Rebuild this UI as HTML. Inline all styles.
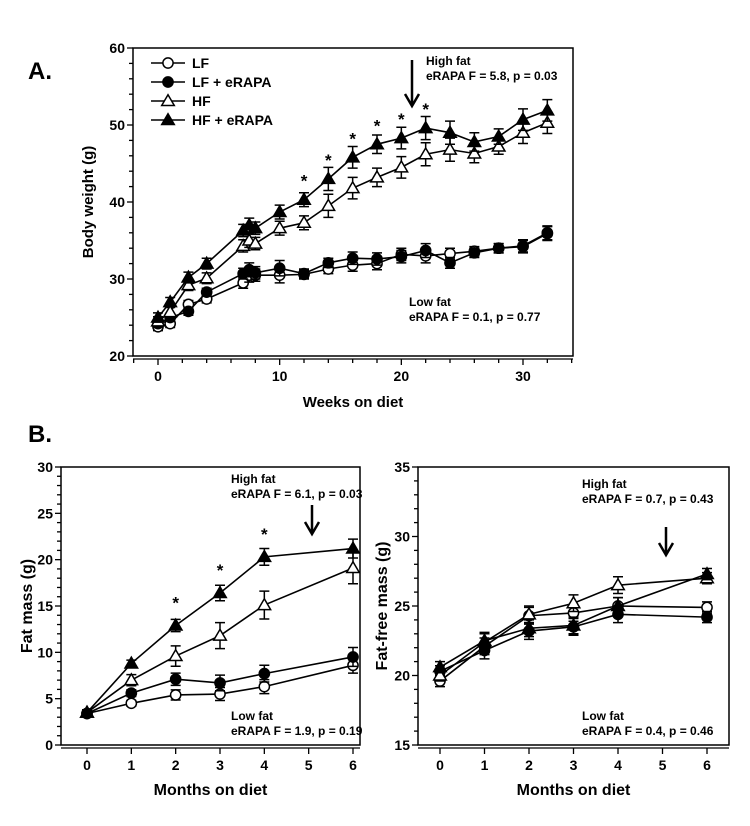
<!DOCTYPE html>
<html><head><meta charset="utf-8"><style>
body{margin:0;background:#fff}
svg{font-family:"Liberation Sans",Arial,sans-serif;font-weight:bold}
</style></head><body>
<svg id="svg" width="750" height="821" viewBox="0 0 750 821" xmlns="http://www.w3.org/2000/svg">
<text x="28" y="79" font-size="24">A.</text>
<text x="28" y="442" font-size="24">B.</text>
<g id="A"></g>
<g id="B1"></g>
<g id="B2"></g>
</svg>
<script>
const weeks=[0,1,2.5,4,7,7.5,8,10,12,14,16,18,20,22,24,26,28,30,32];
const bwLF=[23.8,24.2,26.7,27.4,29.5,30.5,30.5,30.5,30.6,31.3,31.8,32,33.2,33,33.3,33.6,34,34.3,36];
const bwLFR=[24.2,25,25.8,28.3,30.7,31.2,30.8,31.4,30.7,32.1,32.7,32.6,32.9,33.7,32.1,33.4,34,34.2,35.9];
const bwHF=[24.5,25.7,29.2,30.1,34.3,35,34.6,36.6,37.3,39.5,41.8,43.2,44.5,46.2,46.8,46.3,47.2,49,50.3];
const bwHFR=[25,27,30.2,32,36.3,37,36.6,38.7,40.3,43,45.8,47.5,48.3,49.6,49,47.8,48.5,50.7,51.9];
const bwErrHF=[0.6,0.6,0.7,0.7,0.8,0.9,0.8,0.9,0.9,1.5,1.4,1.2,1.4,1.5,1.5,1.2,1.0,1.4,1.4];
const bwErrLF=[0.5,0.5,0.5,0.5,0.7,0.9,0.8,1.0,0.6,0.6,0.8,0.8,0.8,0.9,0.7,0.6,0.6,0.8,0.9];
const months=[0,1,2,3,4,6];
const fmLF=[3.4,4.5,5.4,5.5,6.3,8.6];
const fmLFR=[3.4,5.6,7.1,6.7,7.7,9.5];
const fmHF=[3.5,7.0,9.6,11.8,15.1,19.1];
const fmHFR=[3.5,8.8,12.9,16.4,20.3,21.2];
const fmErr=[0.3,0.6,1.1,1.4,1.5,1.7];
const ffLF=[19.6,22.1,24.3,24.5,25,24.9];
const ffLFR=[20.3,21.8,23.2,23.5,24.4,24.2];
const ffHF=[20.0,22.4,24.4,25.2,26.5,27];
const ffHFR=[20.6,22.5,23.4,23.6,25,27.3];
const ffErr=[0.4,0.6,0.6,0.6,0.6,0.4];
const bwYTicks=[20,30,40,50,60];
const bwXTicks=[0,10,20,30];
const mXTicks=[0,1,2,3,4,5,6];
const fmYTicks=[0,5,10,15,20,25,30];
const ffYTicks=[15,20,25,30,35];
const NS='http://www.w3.org/2000/svg';
function mk(p,t,a){const e=document.createElementNS(NS,t);for(const k in a)e.setAttribute(k,a[k]);p.appendChild(e);return e;}
function chart(g,o){
  const X=v=>o.x0+(v-o.xmin)/(o.xmax-o.xmin)*(o.x1-o.x0);
  const Y=v=>o.y1-(v-o.ymin)/(o.ymax-o.ymin)*(o.y1-o.y0);
  const f=mk(g,'rect',{x:o.L,y:o.y0,width:o.R-o.L,height:o.y1-o.y0,fill:'none',stroke:'#000','stroke-width':1.5});
  
  const step=(o.ymax-o.ymin)/((o.yticks.length-1)*o.ysub);
  for(let v=o.ymin;v<=o.ymax+1e-6;v+=step){
    const major=o.yticks.some(t=>Math.abs(t-v)<1e-6);
    const tk=mk(g,'line',{x1:o.L-(major?6:4),x2:o.L,y1:Y(v),y2:Y(v),stroke:'#000','stroke-width':1.3});
    
  }
  o.yticks.forEach(v=>{const t=mk(g,'text',{x:o.L-8,y:Y(v)+5,'text-anchor':'end','font-size':14});t.textContent=v;
    });
  const xa=mk(g,'line',{x1:o.L,x2:o.R,y1:o.y1+3,y2:o.y1+3,stroke:'#000','stroke-width':1.3});
  
  o.xminor.forEach(v=>{const tk=mk(g,'line',{x1:X(v),x2:X(v),y1:o.y1+3,y2:o.y1+(o.xticks.includes(v)?9:7),stroke:'#000','stroke-width':1.3});
    });
  o.xticks.forEach(v=>{const t=mk(g,'text',{x:X(v),y:o.y1+25,'text-anchor':'middle','font-size':14});t.textContent=v;
    });
  const xt=mk(g,'text',{x:(o.L+o.R)/2,y:o.y1+o.xtDy,'text-anchor':'middle','font-size':o.xtSize});xt.textContent=o.xtitle;
  
  const yt=mk(g,'text',{x:0,y:0,'text-anchor':'middle','font-size':o.ytSize,transform:`translate(${o.ytx},${(o.y0+o.y1)/2}) rotate(-90)`});yt.textContent=o.ytitle;
  
  o.series.forEach(s=>{
    const sg=mk(g,'g',{});
    const pts=o.xs.map((x,i)=>X(x)+','+Y(s.v[i])).join(' ');
    const pl=mk(sg,'polyline',{points:pts,fill:'none',stroke:'#000','stroke-width':1.6});
    
    o.xs.forEach((x,i)=>{
      const cx=X(x),cy=Y(s.v[i]),e=s.e[i];
      const eb=mk(sg,'path',{d:`M${cx},${Y(s.v[i]+e)}V${Y(s.v[i]-e)}M${cx-5},${Y(s.v[i]+e)}h10M${cx-5},${Y(s.v[i]-e)}h10`,stroke:'#000','stroke-width':1.5,fill:'none'});
      
      drawMarker(sg,s.shape,s.fill,cx,cy,o.ms);
    });
  });
  return {X,Y};
}
function drawMarker(p,shape,fill,cx,cy,r){
  let m;
  if(shape==='c')m=mk(p,'circle',{cx,cy,r:r*0.85,fill:fill?'#000':'#fff',stroke:'#000','stroke-width':1.5});
  else m=mk(p,'polygon',{points:`${cx},${cy-r*1.05} ${cx-r*1.05},${cy+r*0.75} ${cx+r*1.05},${cy+r*0.75}`,fill:fill?'#000':'#fff',stroke:'#000','stroke-width':1.5});
  
}
function txt(g,x,y,s,name,size){const t=mk(g,'text',{x,y,'font-size':size||12});t.textContent=s;return t;}
function arrow(g,x,y0,y1){const a=mk(g,'path',{d:`M${x},${y0}V${y1}M${x-7},${y1-12}L${x},${y1}L${x+7},${y1-12}`,stroke:'#000','stroke-width':2.5,fill:'none'});}
function star(g,x,y){txt(g,x,y,'*','significance-star',17).setAttribute('text-anchor','middle');}

// Panel A
const gA=document.getElementById('A');
const wkMinor=[];for(let v=-2;v<=34;v+=2)wkMinor.push(v);
const A=chart(gA,{L:133,R:573,y0:48,y1:356,x0:158,x1:523,xmin:0,xmax:30,ymin:20,ymax:60,yticks:bwYTicks,ysub:5,xticks:bwXTicks,xminor:wkMinor,
  xs:weeks,xtitle:'Weeks on diet',ytitle:'Body weight (g)',ytx:93,ytSize:15,xtSize:15,xtDy:51,ms:6,
  series:[{name:'lf',v:bwLF,e:bwErrLF,shape:'c',fill:false},{name:'lf-erapa',v:bwLFR,e:bwErrLF,shape:'c',fill:true},
          {name:'hf',v:bwHF,e:bwErrHF,shape:'t',fill:false},{name:'hf-erapa',v:bwHFR,e:bwErrHF,shape:'t',fill:true}]});
[12,14,16,18,20,22].forEach(w=>star(gA,A.X(w),A.Y(bwHFR[weeks.indexOf(w)])-13));
arrow(gA,412,60,106);
txt(gA,426,65,'High fat','annotation-high-fat');
txt(gA,426,80,'eRAPA F = 5.8, p = 0.03','annotation-high-fat-stats');
txt(gA,409,306,'Low fat','annotation-low-fat');
txt(gA,409,321,'eRAPA F = 0.1, p = 0.77','annotation-low-fat-stats');
const leg=mk(gA,'g',{});
[['LF','c',false],['LF + eRAPA','c',true],['HF','t',false],['HF + eRAPA','t',true]].forEach((l,i)=>{
  const y=63+i*19;
  const e=mk(leg,'g',{});
  const ln=mk(e,'line',{x1:151,x2:185,y1:y,y2:y,stroke:'#000','stroke-width':1.6});
  drawMarker(e,l[1],l[2],168,y,6);
  txt(e,192,y+5,l[0],'legend-label',14);
});

// Panel B1
const gB1=document.getElementById('B1');
const B1=chart(gB1,{L:61,R:360,y0:467,y1:745,x0:87,x1:353,xmin:0,xmax:6,ymin:0,ymax:30,yticks:fmYTicks,ysub:5,xticks:mXTicks,xminor:mXTicks,
  xs:months,xtitle:'Months on diet',ytitle:'Fat mass (g)',ytx:32,ytSize:16,xtSize:16,xtDy:50,ms:6,
  series:[{name:'lf',v:fmLF,e:fmErr.map(e=>e*0.5),shape:'c',fill:false},{name:'lf-erapa',v:fmLFR,e:fmErr.map(e=>e*0.6),shape:'c',fill:true},
          {name:'hf',v:fmHF,e:fmErr,shape:'t',fill:false},{name:'hf-erapa',v:fmHFR,e:fmErr.map(e=>e*0.6),shape:'t',fill:true}]});
[2,3,4].forEach(m=>star(gB1,B1.X(m),B1.Y(fmHFR[months.indexOf(m)])-17));
arrow(gB1,312,505,534);
txt(gB1,231,483,'High fat','annotation-high-fat');
txt(gB1,231,498,'eRAPA F = 6.1, p = 0.03','annotation-high-fat-stats');
txt(gB1,231,720,'Low fat','annotation-low-fat');
txt(gB1,231,735,'eRAPA F = 1.9, p = 0.19','annotation-low-fat-stats');

// Panel B2
const gB2=document.getElementById('B2');
chart(gB2,{L:418,R:729,y0:467,y1:745,x0:440,x1:707,xmin:0,xmax:6,ymin:15,ymax:35,yticks:ffYTicks,ysub:5,xticks:mXTicks,xminor:mXTicks,
  xs:months,xtitle:'Months on diet',ytitle:'Fat-free mass (g)',ytx:387,ytSize:16,xtSize:16,xtDy:50,ms:6,
  series:[{name:'lf',v:ffLF,e:ffErr,shape:'c',fill:false},{name:'lf-erapa',v:ffLFR,e:ffErr,shape:'c',fill:true},
          {name:'hf',v:ffHF,e:ffErr,shape:'t',fill:false},{name:'hf-erapa',v:ffHFR,e:ffErr,shape:'t',fill:true}]});
arrow(gB2,666,527,555);
txt(gB2,582,488,'High fat','annotation-high-fat');
txt(gB2,582,503,'eRAPA F = 0.7, p = 0.43','annotation-high-fat-stats');
txt(gB2,582,720,'Low fat','annotation-low-fat');
txt(gB2,582,735,'eRAPA F = 0.4, p = 0.46','annotation-low-fat-stats');
</script>
</body></html>
